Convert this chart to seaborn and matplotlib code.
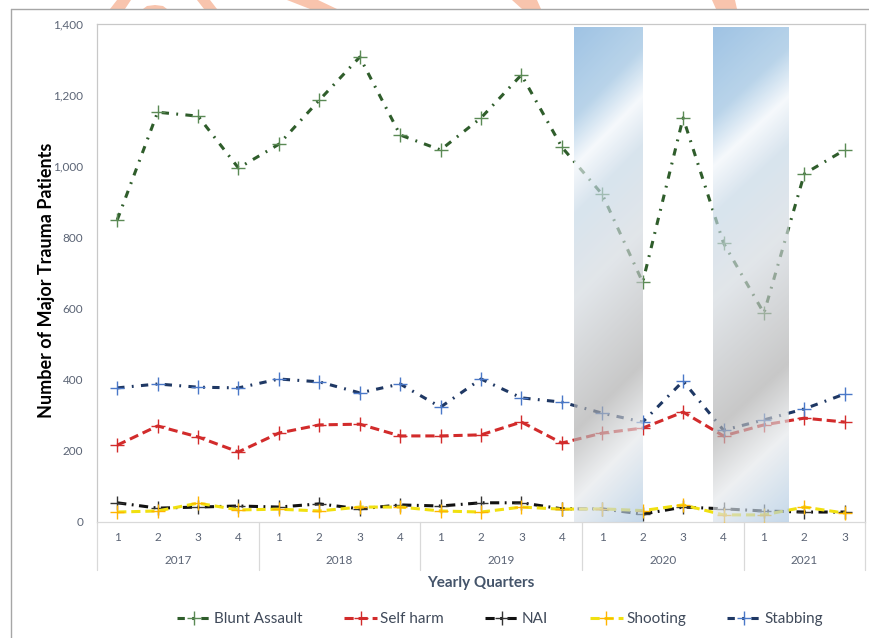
import numpy as np
import seaborn as sns
import matplotlib.pyplot as plt
from matplotlib.colors import to_rgb
from matplotlib.lines import Line2D
from matplotlib.patches import Polygon
from matplotlib.transforms import blended_transform_factory

# data (2017 Q1 .. 2021 Q3)
quarters = ["1", "2", "3", "4"] * 4 + ["1", "2", "3"]
years = ["2017", "2018", "2019", "2020", "2021"]
year_sizes = [4, 4, 4, 4, 3]

blunt_assault = [849, 1152, 1141, 995, 1062, 1186, 1307, 1088, 1046, 1136, 1257, 1054,
                 921, 674, 1136, 784, 587, 979, 1046]
self_harm = [216, 270, 239, 197, 250, 273, 275, 242, 242, 245, 281, 222,
             250, 264, 309, 242, 273, 292, 281]
nai = [54, 39, 42, 45, 42, 51, 37, 48, 45, 54, 54, 37,
       37, 22, 42, 37, 31, 28, 28]
shooting = [28, 31, 53, 34, 36, 31, 42, 42, 31, 28, 42, 36,
            37, 32, 48, 20, 20, 42, 25]
stabbing = [377, 388, 379, 377, 402, 394, 363, 388, 323, 402, 349, 337,
            306, 281, 396, 258, 287, 318, 360]

# shaded periods, in category positions
bands = [(11.3, 13.0), (14.74, 16.62)]

W, H = 869, 638


def fpx(x, y):  # pixel (from top-left) -> figure fraction
    return x / W, 1 - y / H


sns.set_theme(style="white")
plt.rcParams['font.family'] = ['Lato', 'DejaVu Sans']

fig = plt.figure(figsize=(W / 100, H / 100), dpi=100)
ax = fig.add_axes([97 / W, 116 / H, 768 / W, 498 / H])

x = np.arange(len(quarters))
series = [
    ("Blunt Assault", blunt_assault, "#2f5d2b", "#5b8a55", (0, (2.4, 2.4, 0.6, 2.4))),
    ("Self harm", self_harm, "#d22b2b", "#d22b2b", (0, (3.0, 1.6))),
    ("NAI", nai, "#111111", "#333333", (0, (3.0, 1.8, 0.6, 1.8))),
    ("Shooting", shooting, "#f0e010", "#ffb400", (0, (3.0, 1.6))),
    ("Stabbing", stabbing, "#1f3864", "#4a78c8", (0, (2.4, 2.4, 0.6, 2.4))),
]
for name, vals, lc, mc, ls in series:
    sns.lineplot(x=x, y=vals, ax=ax, color=lc, linestyle=ls, linewidth=2.2,
                 marker='+', markersize=10, markeredgecolor=mc, markeredgewidth=1.0,
                 label=name, zorder=3)

handles, labels = ax.get_legend_handles_labels()
ax.get_legend().remove()

# gradient bands (blue -> white -> grey), drawn semi-transparent over the lines
alpha = 0.66
stops_s = [0.0, 0.18, 0.28, 0.38, 0.55, 0.82, 0.96, 1.14]
stops_c = ["#9fc3e4", "#b9d4ea", "#f6f9fc", "#d8e4ee", "#e2e6ea", "#c8c8c8", "#eef0f2", "#c6d9eb"]
stops_rgb = np.array([to_rgb(c) for c in stops_c])
u = np.linspace(0, 1, 300)[:, None]
v = np.linspace(0, 1, 60)[None, :]
s = u + 0.14 * v
img = np.zeros((300, 60, 4))
for k in range(3):
    target = np.interp(s, stops_s, stops_rgb[:, k])
    img[..., k] = np.clip((target - (1 - alpha)) / alpha, 0, 1)
img[..., 3] = alpha
for x0, x1 in bands:
    ax.imshow(img, extent=(x0, x1, 0, 1390), aspect='auto', zorder=4,
              interpolation='bilinear')

ax.set_xlim(-0.5, len(quarters) - 0.5)
ax.set_ylim(0, 1400)
yt = np.arange(0, 1401, 200)
ax.set_yticks(yt, [f"{v:,}" for v in yt])
ax.set_xticks(x, quarters)
ax.tick_params(axis='y', length=0, pad=10, labelsize=8.5, labelcolor='#5b6475')
ax.tick_params(axis='x', length=0, pad=7, labelsize=8.5, labelcolor='#5b6475')
for sp in ax.spines.values():
    sp.set_color('#c8c8c8')
    sp.set_linewidth(0.9)
ax.spines['bottom'].set_color('#d9d9d9')

# year grouping under the quarters
tr = blended_transform_factory(ax.transData, ax.transAxes)
edges = np.concatenate([[0], np.cumsum(year_sizes)]) - 0.5
for e in edges:
    ax.plot([e, e], [0, -0.096], transform=tr, color='#d9d9d9', lw=0.9, clip_on=False)
for yr, a, b in zip(years, edges[:-1], edges[1:]):
    ax.text((a + b) / 2, -0.078, yr, transform=tr, ha='center', va='center',
            fontsize=8.5, color='#5b6475')

fig.text(*fpx(47, 280), "Number of Major Trauma Patients", rotation=90,
         ha='center', va='center', fontsize=13, fontweight='bold', color='black')
fig.text(*fpx(481, 583), "Yearly Quarters", ha='center', va='center',
         fontsize=11, fontweight='bold', color='#44546a')

fig.legend(handles, labels, loc='center', bbox_to_anchor=fpx(500, 619), ncol=5,
           frameon=False, fontsize=11, handlelength=2.2, handletextpad=0.2,
           columnspacing=2.7, labelcolor='#404a5a')

# outer frame of the chart object
fig.add_artist(Line2D([11 / W, 1], [1 - 9 / H] * 2, transform=fig.transFigure,
                      color='#a6a6a6', lw=1.0))
fig.add_artist(Line2D([11 / W] * 2, [0, 1 - 9 / H], transform=fig.transFigure,
                      color='#a6a6a6', lw=1.0))

# salmon strokes peeking in above the frame
strokes = [
    [(110, 9), (125, 9), (131, 0), (117, 0)],
    [(143, 9), (147, 6), (155, 5), (163, 6), (167, 9)],
    [(197, 0), (210, 0), (217, 9), (204, 9)],
    [(287, 0), (318, 0), (337, 9), (310, 9)],
    [(512, 0), (537, 0), (541, 9), (522, 9)],
    [(712, 0), (735, 0), (737, 9), (716, 9)],
]
for pts in strokes:
    fig.add_artist(Polygon([fpx(px, py) for px, py in pts], closed=True,
                           transform=fig.transFigure, color='#f8c4ad', lw=0))

fig.savefig("out.png", dpi=100)
